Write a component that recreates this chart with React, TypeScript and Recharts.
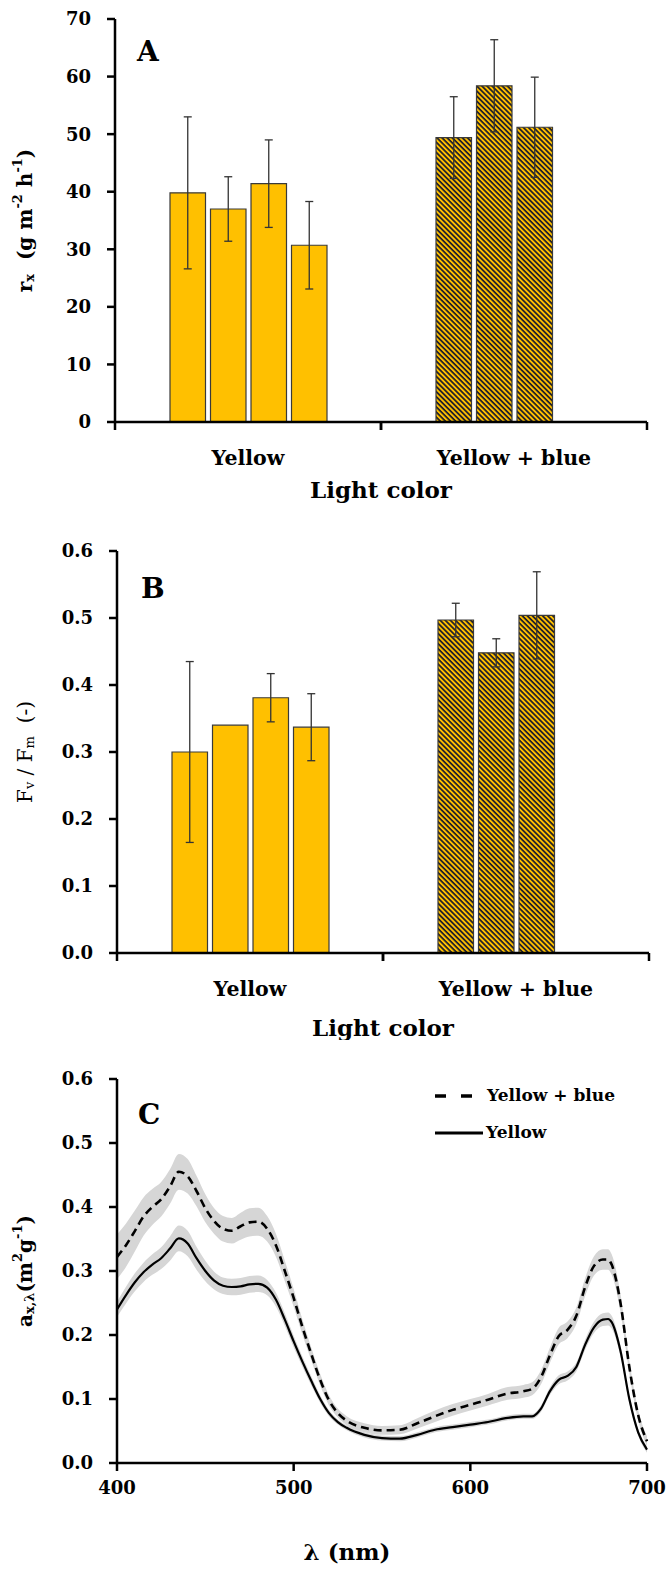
import React from "react"
import {
  Area,
  Bar,
  BarChart,
  Cell,
  ComposedChart,
  ErrorBar,
  Legend,
  Line,
  XAxis,
  YAxis,
} from "recharts"

const FONT = '"DejaVu Serif", "Liberation Serif", serif'
const YELLOW = "#FFC000"
const INK = "#000"

// Panels A and B: light colour categories, four replicate runs each
const lightColors = ["Yellow", "Yellow + blue"]

// A: r_x (g m-2 h-1)
const rateRep1 = [39.8, 49.4]
const rateRep2 = [37.0, 58.4]
const rateRep3 = [41.4, 51.2]
const rateRep4 = [30.7, null]
const rateErr1 = [13.2, 7.1]
const rateErr2 = [5.6, 8.0]
const rateErr3 = [7.6, 8.7]
const rateErr4 = [7.6, null]
const rateTicks = [0, 10, 20, 30, 40, 50, 60, 70]

// B: Fv / Fm (-)
const fvfmRep1 = [0.3, 0.497]
const fvfmRep2 = [0.34, 0.448]
const fvfmRep3 = [0.381, 0.504]
const fvfmRep4 = [0.337, null]
const fvfmErr1 = [0.135, 0.025]
const fvfmErr2 = [null, 0.021]
const fvfmErr3 = [0.036, 0.065]
const fvfmErr4 = [0.05, null]
const fvfmTicks = [0, 0.1, 0.2, 0.3, 0.4, 0.5, 0.6]

// C: specific absorption spectra
const wavelengths = [
  400, 405, 410, 415, 420, 425, 430, 435, 440, 445, 450, 455, 460, 465, 470, 475, 480, 485, 490, 495,
  500, 505, 510, 515, 520, 525, 530, 540, 550, 560, 570, 580, 590, 600, 610, 620, 630, 635, 640, 645,
  650, 655, 660, 665, 670, 675, 678, 680, 685, 690, 695, 700,
]
const absYellowBlue = [
  0.322, 0.34, 0.362, 0.385, 0.4, 0.412, 0.432, 0.455, 0.448, 0.425, 0.398, 0.378, 0.366, 0.363, 0.37,
  0.376, 0.377, 0.366, 0.34, 0.3, 0.258, 0.212, 0.17, 0.13, 0.098, 0.078, 0.066, 0.055, 0.051, 0.052,
  0.062, 0.073, 0.083, 0.091, 0.099, 0.108, 0.112, 0.116, 0.134, 0.168, 0.198, 0.208, 0.23, 0.275,
  0.308, 0.318, 0.318, 0.31, 0.25, 0.15, 0.075, 0.034,
]
const sdYellowBlue = [
  0.035, 0.034, 0.032, 0.03, 0.028, 0.027, 0.027, 0.028, 0.027, 0.024, 0.022, 0.02, 0.02, 0.02, 0.021,
  0.022, 0.022, 0.02, 0.018, 0.016, 0.014, 0.012, 0.01, 0.009, 0.008, 0.007, 0.007, 0.007, 0.007, 0.007,
  0.008, 0.009, 0.009, 0.009, 0.009, 0.01, 0.01, 0.01, 0.011, 0.012, 0.013, 0.013, 0.013, 0.014, 0.015,
  0.016, 0.016, 0.016, 0.014, 0.01, 0.008, 0.008,
]
const absYellow = [
  0.24, 0.262, 0.282, 0.298, 0.31, 0.32, 0.335, 0.351, 0.343, 0.32, 0.3, 0.285, 0.277, 0.275, 0.276,
  0.279, 0.28, 0.274, 0.255, 0.224, 0.19, 0.158, 0.128, 0.1, 0.078, 0.064, 0.055, 0.044, 0.039, 0.038,
  0.044, 0.052, 0.056, 0.06, 0.064, 0.07, 0.073, 0.073, 0.085, 0.112, 0.13, 0.136, 0.15, 0.185, 0.212,
  0.224, 0.225, 0.22, 0.175, 0.1, 0.048, 0.021,
]
const sdYellow = [
  0.012, 0.013, 0.014, 0.015, 0.016, 0.017, 0.019, 0.02, 0.02, 0.018, 0.016, 0.014, 0.013, 0.013, 0.013,
  0.013, 0.013, 0.012, 0.011, 0.01, 0.009, 0.008, 0.007, 0.006, 0.005, 0.004, 0.004, 0.004, 0.004, 0.004,
  0.004, 0.004, 0.004, 0.004, 0.004, 0.004, 0.004, 0.004, 0.005, 0.006, 0.007, 0.007, 0.007, 0.008, 0.009,
  0.01, 0.01, 0.01, 0.008, 0.006, 0.005, 0.005,
]
const wlTicks = [400, 500, 600, 700]
const absTicks = [0, 0.1, 0.2, 0.3, 0.4, 0.5, 0.6]

const rateData = lightColors.map((name, i) => ({
  name,
  r1: rateRep1[i], r2: rateRep2[i], r3: rateRep3[i], r4: rateRep4[i],
  e1: rateErr1[i], e2: rateErr2[i], e3: rateErr3[i], e4: rateErr4[i],
}))

const fvfmData = lightColors.map((name, i) => ({
  name,
  r1: fvfmRep1[i], r2: fvfmRep2[i], r3: fvfmRep3[i], r4: fvfmRep4[i],
  e1: fvfmErr1[i], e2: fvfmErr2[i], e3: fvfmErr3[i], e4: fvfmErr4[i],
}))

const spectrumData = wavelengths.map((wl, i) => ({
  wl,
  yb: absYellowBlue[i],
  y: absYellow[i],
  ybBand: [absYellowBlue[i] - sdYellowBlue[i], absYellowBlue[i] + sdYellowBlue[i]],
  yBand: [absYellow[i] - sdYellow[i], absYellow[i] + sdYellow[i]],
}))

const axisLine = { stroke: INK, strokeWidth: 2.5 }
const tickFont = { fontFamily: FONT, fontSize: 18, fontWeight: 700, fill: INK }

// category axis in Excel style: tick marks on the band edges, name in the middle
function CategoryTick({ x, y, payload, width, visibleTicksCount }: any) {
  const half = width / visibleTicksCount / 2
  const axisY = y - 8
  return (
    <g>
      <line x1={x - half} x2={x - half} y1={axisY} y2={axisY + 8} stroke={INK} strokeWidth={2.5} />
      <line x1={x + half} x2={x + half} y1={axisY} y2={axisY + 8} stroke={INK} strokeWidth={2.5} />
      <text x={x} y={axisY + 43} textAnchor="middle" fontFamily={FONT} fontSize={20.5} fontWeight={700} fill={INK}>
        {payload.value}
      </text>
    </g>
  )
}

function XTitle({ viewBox, text, dy, dx = 0 }: any) {
  return (
    <text
      x={viewBox.x + viewBox.width / 2 + dx}
      y={viewBox.y + dy}
      textAnchor="middle"
      fontFamily={FONT}
      fontSize={23}
      fontWeight={700}
      fill={INK}
    >
      {text}
    </text>
  )
}

function YTitle({ viewBox, body, shift = 0, weight = 700 }: any) {
  const x = 25
  const cy = viewBox.y + viewBox.height / 2 + shift
  return (
    <text
      x={x}
      y={cy}
      transform={`rotate(-90 ${x} ${cy})`}
      textAnchor="middle"
      dominantBaseline="central"
      fontFamily={FONT}
      fontSize={20}
      fontWeight={weight}
      fill={INK}
      style={{ whiteSpace: "pre" }}
    >
      {body}
    </text>
  )
}

const rateTitle = (
  <>
    r<tspan fontSize={13} dy={4}>x</tspan>
    <tspan dy={-4}>{"  (g m"}</tspan>
    <tspan fontSize={13} dy={-8}>-2</tspan>
    <tspan dy={8}>{" h"}</tspan>
    <tspan fontSize={13} dy={-8}>-1</tspan>
    <tspan dy={8}>)</tspan>
  </>
)

const fvfmTitle = (
  <>
    F<tspan fontSize={13} dy={4}>v</tspan>
    <tspan dy={-4}>{" / F"}</tspan>
    <tspan fontSize={13} dy={4}>m</tspan>
    <tspan dy={-4}>{"  (-)"}</tspan>
  </>
)

const absTitle = (
  <>
    a<tspan fontSize={13} dy={4}>x,λ</tspan>
    <tspan dy={-4}>(m</tspan>
    <tspan fontSize={13} dy={-8}>2</tspan>
    <tspan dy={8}>g</tspan>
    <tspan fontSize={13} dy={-8}>-1</tspan>
    <tspan dy={8}>)</tspan>
  </>
)

function ReplicateBars({ data, hatchId }: any) {
  const keys = ["r1", "r2", "r3", "r4"]
  return keys.map((k, s) => (
    <Bar key={k} dataKey={k} isAnimationActive={false} stroke="#3a3a3a" strokeWidth={1.2}>
      {data.map((d: any, i: number) => (
        <Cell key={i} fill={i === 0 ? YELLOW : `url(#${hatchId})`} />
      ))}
      <ErrorBar dataKey={`e${s + 1}`} width={4} strokeWidth={1.3} stroke="#333" direction="y" />
    </Bar>
  ))
}

function Hatch({ id }: { id: string }) {
  return (
    <defs>
      <pattern id={id} patternUnits="userSpaceOnUse" width={3.6} height={3.6} patternTransform="rotate(45)">
        <rect width={3.6} height={3.6} fill={YELLOW} />
        <rect width={3.6} height={1.7} fill="#1c1c2a" />
      </pattern>
    </defs>
  )
}

function BarPanel({ data, ticks, domain, hatchId, top, plotBottom, titleBody, titleWeight, lightDy, fmt, marginRight, yWidth }: any) {
  return (
    <BarChart
      width={668}
      height={520}
      data={data}
      barSize={35.5}
      barGap={5}
      margin={{ top, right: marginRight, left: 0, bottom: 520 - plotBottom - 40 }}
    >
      <Hatch id={hatchId} />
      <XAxis
        dataKey="name"
        interval={0}
        height={40}
        tickSize={8}
        tickMargin={0}
        tickLine={false}
        axisLine={axisLine}
        tick={<CategoryTick />}
        label={<XTitle text="Light color" dy={lightDy} />}
      />
      <YAxis
        domain={domain}
        ticks={ticks}
        interval={0}
        width={yWidth}
        tickSize={8}
        tickMargin={16}
        tickLine={axisLine}
        axisLine={axisLine}
        tick={tickFont}
        tickFormatter={fmt}
        label={<YTitle body={titleBody} weight={titleWeight} />}
      />
      {ReplicateBars({ data, hatchId })}
    </BarChart>
  )
}

function SpectrumLegend() {
  return (
    <div style={{ fontFamily: FONT, fontWeight: 700, fontSize: 17, color: INK, lineHeight: "37px" }}>
      <div style={{ display: "flex", alignItems: "center" }}>
        <svg width={52} height={10}>
          <line x1={0} x2={37} y1={5} y2={5} stroke={INK} strokeWidth={3.5} strokeDasharray="11 15" />
        </svg>
        <span>Yellow + blue</span>
      </div>
      <div style={{ display: "flex", alignItems: "center" }}>
        <svg width={51} height={10}>
          <line x1={0} x2={48} y1={5} y2={5} stroke={INK} strokeWidth={3} />
        </svg>
        <span>Yellow</span>
      </div>
    </div>
  )
}

export default function App() {
  return (
    <div style={{ position: "absolute", left: 0, top: 0, width: 668, height: 1569, background: "#fff" }}>
      <div style={{ position: "absolute", left: 0, top: 0 }}>
        <BarPanel
          data={rateData}
          ticks={rateTicks}
          domain={[0, 70]}
          hatchId="hatchA"
          top={19}
          plotBottom={422}
          marginRight={21}
          yWidth={115}
          titleBody={rateTitle}
          titleWeight={700}
          lightDy={76}
          fmt={(v: number) => String(v)}
        />
      </div>
      <div style={{ position: "absolute", left: 0, top: 520 }}>
        <BarPanel
          data={fvfmData}
          ticks={fvfmTicks}
          domain={[0, 0.6]}
          hatchId="hatchB"
          top={31}
          plotBottom={433}
          marginRight={19}
          yWidth={117}
          titleBody={fvfmTitle}
          titleWeight={400}
          lightDy={83}
          fmt={(v: number) => v.toFixed(1)}
        />
      </div>
      <div style={{ position: "absolute", left: 0, top: 1040 }}>
        <ComposedChart width={668} height={529} data={spectrumData} margin={{ top: 39, right: 21, left: 0, bottom: 66 }}>
          <XAxis
            dataKey="wl"
            type="number"
            domain={[400, 700]}
            ticks={wlTicks}
            interval={0}
            height={40}
            tickSize={8}
            tickMargin={10}
            tickLine={axisLine}
            axisLine={axisLine}
            tick={tickFont}
            label={<XTitle text="λ (nm)" dy={97} dx={-35} />}
          />
          <YAxis
            domain={[0, 0.6]}
            ticks={absTicks}
            interval={0}
            width={117}
            tickSize={8}
            tickMargin={16}
            tickLine={axisLine}
            axisLine={axisLine}
            tick={tickFont}
            tickFormatter={(v: number) => v.toFixed(1)}
            label={<YTitle body={absTitle} />}
          />
          <Legend
            layout="vertical"
            align="center"
            verticalAlign="middle"
            content={<SpectrumLegend />}
            wrapperStyle={{ left: 435, top: 37, width: 220, height: 80 }}
          />
          <Area type="monotone" dataKey="ybBand" stroke="none" fill="#d6d6d6" fillOpacity={1} isAnimationActive={false} />
          <Area type="monotone" dataKey="yBand" stroke="none" fill="#d6d6d6" fillOpacity={1} isAnimationActive={false} />
          <Line type="monotone" dataKey="yb" stroke={INK} strokeWidth={2.6} strokeDasharray="8 5" dot={false} isAnimationActive={false} />
          <Line type="monotone" dataKey="y" stroke={INK} strokeWidth={2.2} dot={false} isAnimationActive={false} />
        </ComposedChart>
      </div>
      <svg width={668} height={1569} style={{ position: "absolute", left: 0, top: 0, pointerEvents: "none" }}>
        <text x={137} y={61} fontFamily={FONT} fontSize={28} fontWeight={700} fill={INK}>A</text>
        <text x={141} y={598} fontFamily={FONT} fontSize={28} fontWeight={700} fill={INK}>B</text>
        <text x={138} y={1124} fontFamily={FONT} fontSize={28} fontWeight={700} fill={INK}>C</text>
      </svg>
    </div>
  )
}
